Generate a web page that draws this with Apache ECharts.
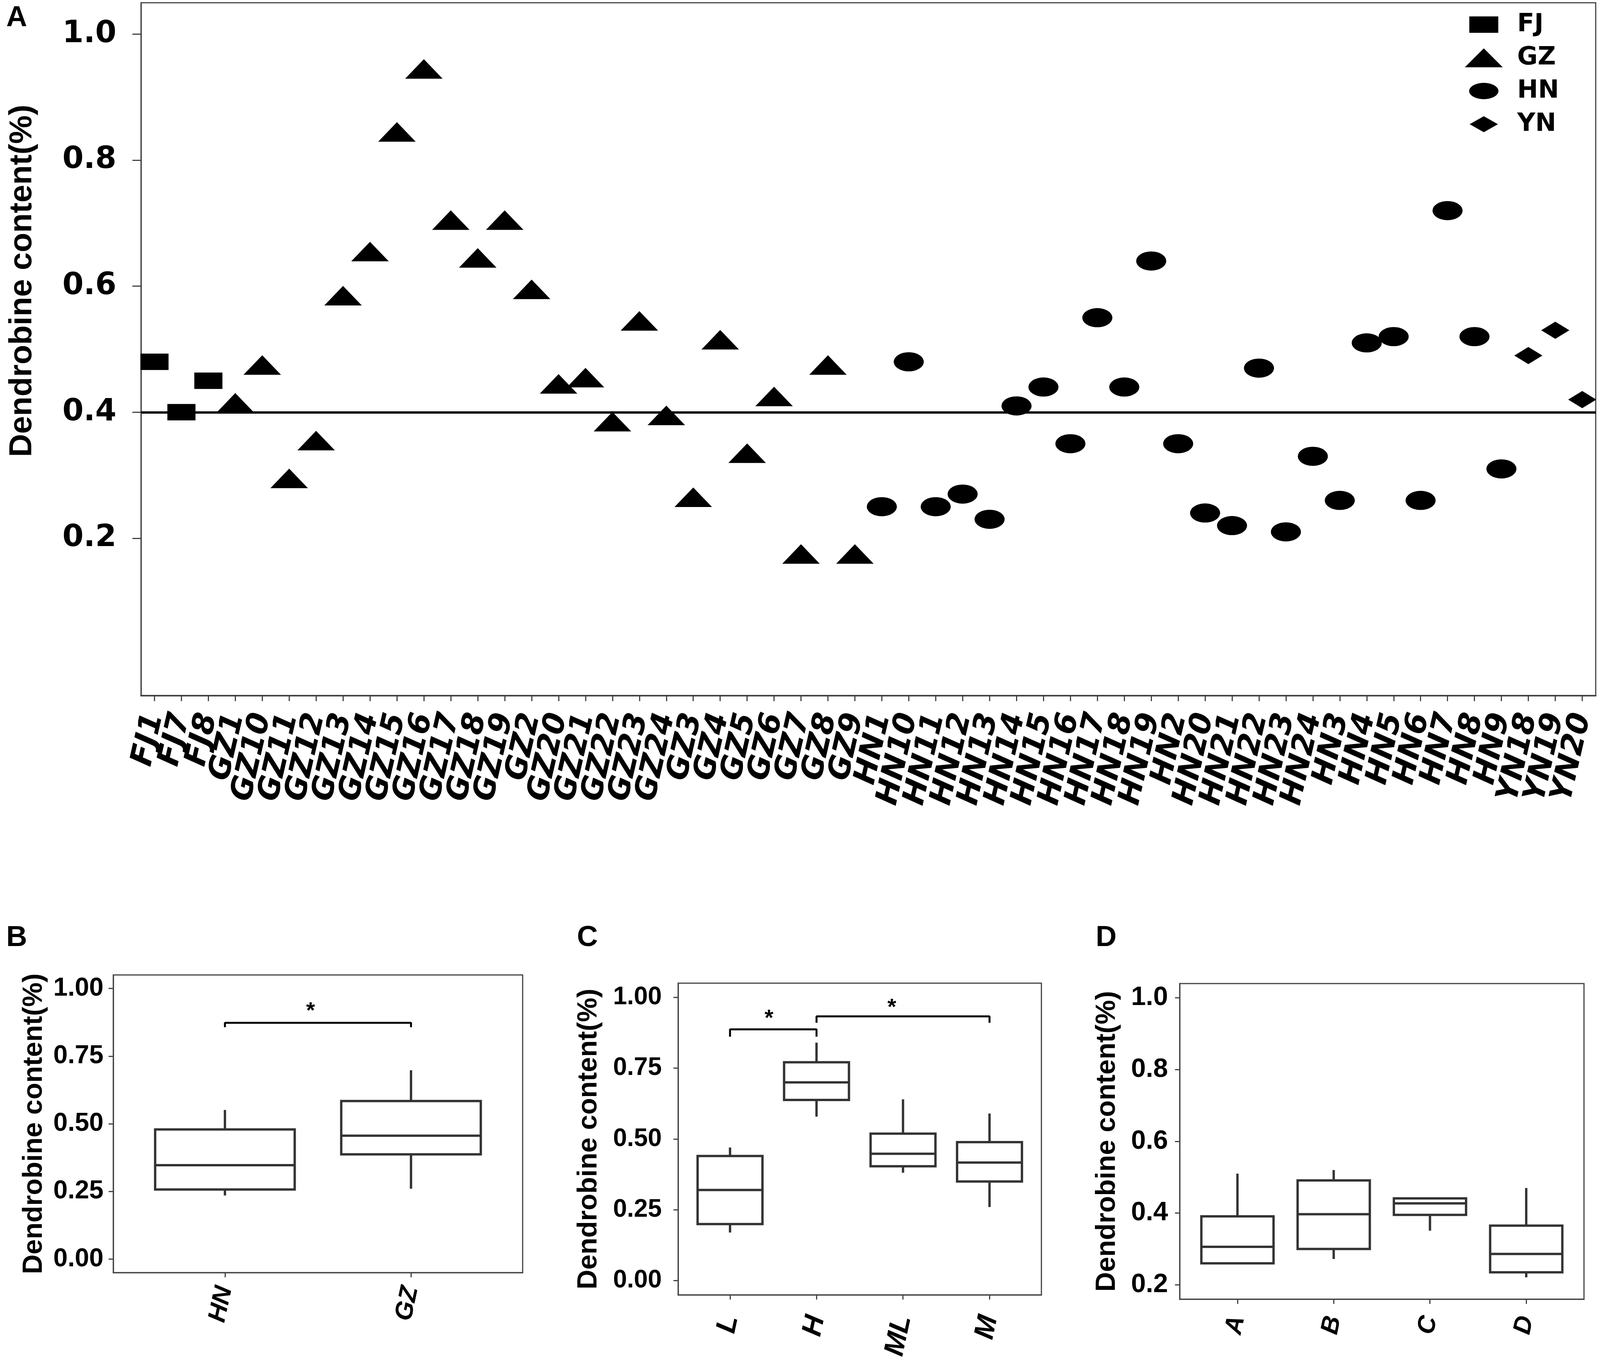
<!DOCTYPE html>
<html>
<head>
<meta charset="utf-8">
<script src="https://cdn.jsdelivr.net/npm/echarts@6/dist/echarts.min.js"></script>
<style>
  html, body { margin: 0; padding: 0; background: #fff; overflow: hidden; }
  #main { height: 3492px; }
</style>
</head>
<body>
<div id="main"></div>
<script>
// panel A: dendrobine content of every sample
const sampleNames = ['FJ1','FJ7','FJ8','GZ1','GZ10','GZ11','GZ12','GZ13','GZ14','GZ15','GZ16','GZ17','GZ18','GZ19',
  'GZ2','GZ20','GZ21','GZ22','GZ23','GZ24','GZ3','GZ4','GZ5','GZ6','GZ7','GZ8','GZ9',
  'HN1','HN10','HN11','HN12','HN13','HN14','HN15','HN16','HN17','HN18','HN19',
  'HN2','HN20','HN21','HN22','HN23','HN24','HN3','HN4','HN5','HN6','HN7','HN8','HN9',
  'YN18','YN19','YN20'];
const contentA = [0.48, 0.40, 0.45, 0.41, 0.47, 0.29, 0.35, 0.58, 0.65, 0.84, 0.94, 0.70, 0.64, 0.70,
  0.59, 0.44, 0.45, 0.38, 0.54, 0.39, 0.26, 0.51, 0.33, 0.42, 0.17, 0.47, 0.17,
  0.25, 0.48, 0.25, 0.27, 0.23, 0.41, 0.44, 0.35, 0.55, 0.44, 0.64,
  0.35, 0.24, 0.22, 0.47, 0.21, 0.33, 0.26, 0.51, 0.52, 0.26, 0.72, 0.52, 0.31,
  0.49, 0.53, 0.42];
const groups = ['FJ', 'GZ', 'HN', 'YN'];
const yTicksA = [0.2, 0.4, 0.6, 0.8, 1.0];
const refLine = 0.4;

// panels B-D: box stats [min, q1, median, q3, max]
const originNames = ['HN', 'GZ'];
const originBox = [[0.235, 0.257, 0.347, 0.479, 0.551], [0.260, 0.387, 0.456, 0.584, 0.698]];
const originBrackets = [[1, 2, 0.873, 0.857]];
const originStars = [[1.46, 0.932]];

const altitudeNames = ['L', 'H', 'ML', 'M'];
const altitudeBox = [[0.170, 0.200, 0.320, 0.440, 0.470], [0.579, 0.638, 0.700, 0.771, 0.840],
  [0.381, 0.404, 0.448, 0.519, 0.640], [0.260, 0.350, 0.417, 0.489, 0.590]];
const altitudeBrackets = [[1, 2, 0.887, 0.861], [2, 4, 0.933, 0.910]];
const altitudeStars = [[1.45, 0.940], [2.87, 0.979]];

const soilNames = ['A', 'B', 'C', 'D'];
const soilBox = [[0.260, 0.260, 0.306, 0.391, 0.510], [0.272, 0.300, 0.397, 0.491, 0.520],
  [0.351, 0.395, 0.427, 0.441, 0.441], [0.221, 0.235, 0.286, 0.365, 0.470]];

const yTicksQuarter = [0, 0.25, 0.5, 0.75, 1.0];
const yTicksFifth = [0.2, 0.4, 0.6, 0.8, 1.0];

// the window may be narrower than the 4328 px layout, so squeeze x positions to fit
const pageW = window.innerWidth || 4328;
const sx = pageW / 4328;
const X = v => Math.round(v * sx);
const dom = document.getElementById('main');
dom.style.width = pageW + 'px';
const chart = echarts.init(dom);

const ellipsePath = 'path://M0,25A50,25 0 1,1 100,25A50,25 0 1,1 0,25Z';
const markers = {
  FJ: { symbol: 'rect', size: [X(76), 42], offset: [0, 0] },
  GZ: { symbol: 'triangle', size: [X(101), 50], offset: [0, -8] },
  HN: { symbol: ellipsePath, size: [X(81), 49], offset: [0, 0] },
  YN: { symbol: 'diamond', size: [X(76), 44], offset: [0, 0] }
};
const legendIcons = {
  FJ: 'path://M0,0M102,51M12,3.5L90,3.5L90,47.5L12,47.5Z',
  GZ: 'path://M51,0L102,51L0,51Z',
  HN: 'path://M0,0M102,51M11.5,25.5A39.5,22 0 1,1 90.5,25.5A39.5,22 0 1,1 11.5,25.5Z',
  YN: 'path://M0,0M102,51M51,4L89,25.5L51,47L13,25.5Z'
};

const grey = '#444';
const titleFont = { fontFamily: 'Liberation Sans', fontWeight: 'bold', color: '#000' };

function boxItem(params, api) {
  const x = api.value(0);
  const lo = api.coord([x, api.value(1)]);
  const q1 = api.coord([x, api.value(2)]);
  const md = api.coord([x, api.value(3)]);
  const q3 = api.coord([x, api.value(4)]);
  const hi = api.coord([x, api.value(5)]);
  const half = api.size([0.75, 0], [x, api.value(3)])[0] / 2;
  const st = { stroke: '#333', lineWidth: 6, fill: 'none' };
  return {
    type: 'group',
    children: [
      { type: 'line', shape: { x1: lo[0], y1: lo[1], x2: q1[0], y2: q1[1] }, style: st },
      { type: 'line', shape: { x1: q3[0], y1: q3[1], x2: hi[0], y2: hi[1] }, style: st },
      { type: 'rect', shape: { x: q3[0] - half, y: q3[1], width: half * 2, height: q1[1] - q3[1] },
        style: { stroke: '#333', lineWidth: 6, fill: '#fff' } },
      { type: 'line', shape: { x1: md[0] - half, y1: md[1], x2: md[0] + half, y2: md[1] }, style: st }
    ]
  };
}

function starItem(params, api) {
  const p = api.coord([api.value(0), api.value(1)]);
  return {
    type: 'text', x: p[0], y: p[1] + 12,
    style: { text: '*', fontSize: 58, fontWeight: 'bold', fontFamily: 'Liberation Sans',
      fill: '#000', align: 'center', verticalAlign: 'middle' }
  };
}

function boxPanel(idx, names, box, yTicks, yMin, yMax, digits, opts) {
  const ticksX = names.map((n, i) => i + 1);
  const xAxis = {
    type: 'value', gridIndex: idx, min: 0.4, max: names.length + 0.6,
    splitLine: { show: false },
    axisLine: { show: true, onZero: false, lineStyle: { color: grey, width: 3 } },
    axisTick: { show: true, customValues: ticksX, length: 12, lineStyle: { color: grey, width: 3 } },
    axisLabel: {
      customValues: ticksX, formatter: v => names[Math.round(v) - 1],
      rotate: 78, margin: opts.xMargin, color: '#000',
      fontFamily: 'Liberation Sans', fontWeight: 'bold', fontStyle: 'italic', fontSize: opts.xFont
    }
  };
  const yAxis = {
    type: 'value', gridIndex: idx, min: yMin, max: yMax,
    splitLine: { show: false },
    axisLine: { show: true, onZero: false, lineStyle: { color: grey, width: 3 } },
    axisTick: { show: true, customValues: yTicks, length: X(13), lineStyle: { color: grey, width: 3 } },
    axisLabel: {
      customValues: yTicks, formatter: v => v.toFixed(digits),
      margin: X(opts.yMargin), color: '#000',
      fontFamily: 'Liberation Sans', fontWeight: 'bold', fontSize: opts.yFont
    },
    name: 'Dendrobine content(%)', nameLocation: 'middle', nameGap: X(opts.nameGap),
    nameTextStyle: Object.assign({ fontSize: 70 }, titleFont)
  };
  const series = [{
    type: 'custom', xAxisIndex: idx, yAxisIndex: idx,
    renderItem: boxItem,
    data: box.map((b, i) => [i + 1].concat(b)),
    encode: { x: 0, y: [1, 2, 3, 4, 5] },
    animation: false, silent: true, z: 2
  }];
  (opts.brackets || []).forEach(b => {
    series.push({
      type: 'line', xAxisIndex: idx, yAxisIndex: idx, symbol: 'none', animation: false, silent: true,
      lineStyle: { color: '#000', width: 5 }, z: 3,
      data: [[b[0], b[3]], [b[0], b[2]], [b[1], b[2]], [b[1], b[3]]]
    });
  });
  if (opts.stars) {
    series.push({
      type: 'custom', xAxisIndex: idx, yAxisIndex: idx, renderItem: starItem,
      data: opts.stars, animation: false, silent: true, z: 4
    });
  }
  return { xAxis, yAxis, series };
}

const panelB = boxPanel(1, originNames, originBox, yTicksQuarter, -0.05, 1.05, 2,
  { xMargin: 36, xFont: 64, yMargin: 26, yFont: 66, nameGap: 176, brackets: originBrackets, stars: originStars });
const panelC = boxPanel(2, altitudeNames, altitudeBox, yTicksQuarter, -0.05, 1.05, 2,
  { xMargin: 54, xFont: 72, yMargin: 44, yFont: 64, nameGap: 204, brackets: altitudeBrackets, stars: altitudeStars });
const panelD = boxPanel(3, soilNames, soilBox, yTicksFifth, 0.16, 1.04, 1,
  { xMargin: 44, xFont: 64, yMargin: 32, yFont: 68, nameGap: 158 });

const scatterSeries = groups.map(g => {
  const data = [];
  sampleNames.forEach((n, i) => { if (n.indexOf(g) === 0) data.push([n, contentA[i]]); });
  const s = {
    name: g, type: 'scatter', xAxisIndex: 0, yAxisIndex: 0,
    symbol: markers[g].symbol, symbolSize: markers[g].size, symbolOffset: markers[g].offset,
    itemStyle: { color: '#000', opacity: 1 },
    data: data, animation: false, z: 3
  };
  if (g === 'GZ') {
    s.markLine = {
      silent: true, symbol: ['none', 'none'], animation: false,
      label: { show: false },
      lineStyle: { color: '#000', width: 6, type: 'solid' },
      data: [{ yAxis: refLine }]
    };
  }
  return s;
});

const panelLetters = [
  { text: 'A', x: 17, y: 47 },
  { text: 'B', x: 17, y: 2402 },
  { text: 'C', x: 1561, y: 2402 },
  { text: 'D', x: 2964, y: 2402 }
];

const option = {
  backgroundColor: '#fff',
  animation: false,
  grid: [
    { left: X(381), top: 7, width: X(3935), height: 1774, show: true, borderColor: grey, borderWidth: 3 },
    { left: X(306), top: 2496, width: X(1107), height: 762, show: true, borderColor: grey, borderWidth: 3 },
    { left: X(1834), top: 2517, width: X(983), height: 798, show: true, borderColor: grey, borderWidth: 3 },
    { left: X(3191), top: 2518, width: X(1094), height: 808, show: true, borderColor: grey, borderWidth: 3 }
  ],
  legend: {
    orient: 'vertical', left: X(3957), top: 26,
    itemWidth: X(102), itemHeight: 51, itemGap: 21,
    selectedMode: false,
    textStyle: { fontFamily: 'DejaVu Sans', fontWeight: 'bold', fontSize: 64, color: '#000',
      padding: [0, 0, 0, X(34)], lineHeight: 51, height: 51 },
    data: groups.map(g => ({ name: g, icon: legendIcons[g] }))
  },
  xAxis: [
    {
      type: 'category', gridIndex: 0, data: sampleNames, boundaryGap: true,
      axisLine: { show: true, onZero: false, lineStyle: { color: grey, width: 4 } },
      axisTick: { show: true, alignWithLabel: true, interval: 0, length: 14, lineStyle: { color: grey, width: 3 } },
      axisLabel: {
        interval: 0, rotate: 77, margin: 46, color: '#000',
        fontFamily: 'DejaVu Sans', fontWeight: 'bold', fontStyle: 'italic', fontSize: 78
      },
      splitLine: { show: false }
    },
    panelB.xAxis, panelC.xAxis, panelD.xAxis
  ],
  yAxis: [
    {
      type: 'value', gridIndex: 0, min: -0.05, max: 1.05,
      splitLine: { show: false },
      axisLine: { show: true, onZero: false, lineStyle: { color: grey, width: 3 } },
      axisTick: { show: true, customValues: yTicksA, length: X(23), lineStyle: { color: grey, width: 3 } },
      axisLabel: {
        customValues: yTicksA, formatter: v => v.toFixed(1), margin: X(67), color: '#000',
        fontFamily: 'DejaVu Sans', fontWeight: 'bold', fontSize: 78
      },
      name: 'Dendrobine content(%)', nameLocation: 'middle', nameGap: X(278),
      nameTextStyle: Object.assign({ fontSize: 82, padding: [0, 0, 0, 350] }, titleFont)
    },
    panelB.yAxis, panelC.yAxis, panelD.yAxis
  ],
  graphic: panelLetters.map(l => ({
    type: 'text', x: X(l.x), y: l.y, silent: true,
    style: { text: l.text, fontFamily: 'Liberation Sans', fontWeight: 'bold', fontSize: 74,
      fill: '#000', align: 'left', verticalAlign: 'middle' }
  })),
  series: scatterSeries.concat(panelB.series, panelC.series, panelD.series)
};

chart.setOption(option);
</script>
</body>
</html>
